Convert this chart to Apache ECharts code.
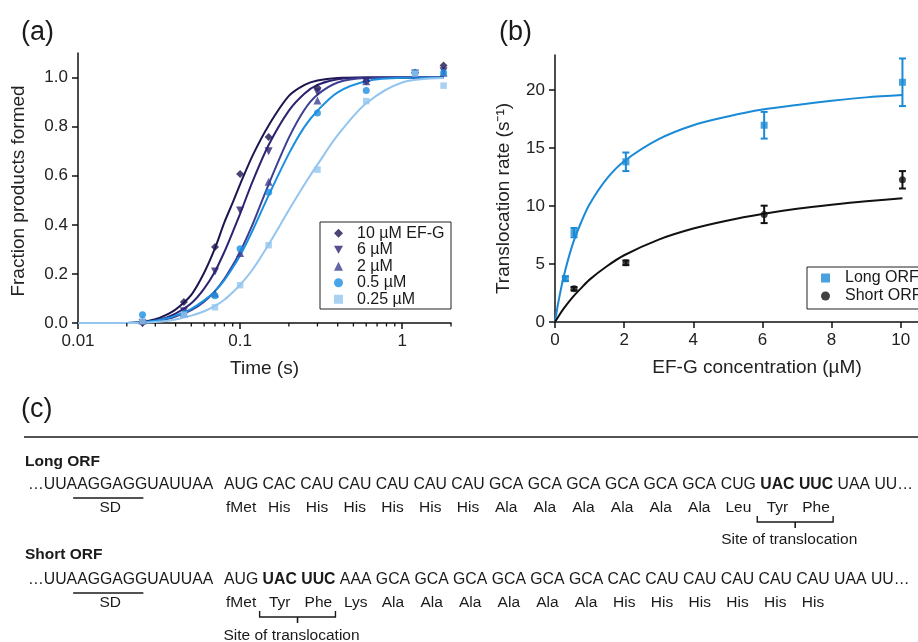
<!DOCTYPE html>
<html>
<head>
<meta charset="utf-8">
<title>EF-G translocation</title>
<script src="https://cdn.jsdelivr.net/npm/echarts@6/dist/echarts.min.js"></script>
<style>
  html, body { margin: 0; padding: 0; background: #fff; }
  #chart { width: 918px; height: 642px; }
</style>
</head>
<body>
<div id="chart"></div>
<script>
// ---- panel (a): fraction of products vs time ----
var timePts = [0.025, 0.045, 0.07, 0.1, 0.15, 0.3, 0.6, 1.2, 1.8];
var frac10 = [0.0, 0.086, 0.31, 0.607, 0.758, 0.958, 0.985, 1.02, 1.049];
var frac6 = [0.0, 0.048, 0.21, 0.458, 0.70, 0.94, 0.985, 1.016, 1.026];
var frac2 = [0.01, 0.04, 0.12, 0.285, 0.575, 0.906, 0.985, 1.016, 1.02];
var frac05 = [0.034, 0.038, 0.111, 0.303, 0.533, 0.856, 0.947, 1.02, 1.02];
var frac025 = [0.007, 0.034, 0.064, 0.154, 0.317, 0.625, 0.904, 1.016, 0.967];

// fitted curves
var fitTime = [0.01, 0.02, 0.025, 0.03, 0.035, 0.04, 0.05, 0.06, 0.07, 0.08, 0.09, 0.1, 0.12, 0.15, 0.2, 0.25, 0.3, 0.4, 0.6, 1, 1.8];
var fit10 = [0, 0, 0.004, 0.015, 0.033, 0.055, 0.115, 0.205, 0.305, 0.41, 0.49, 0.565, 0.685, 0.805, 0.925, 0.97, 0.988, 0.998, 1, 1, 1];
var fit6 = [0, 0, 0.002, 0.01, 0.022, 0.038, 0.08, 0.14, 0.21, 0.29, 0.37, 0.445, 0.58, 0.725, 0.865, 0.935, 0.97, 0.993, 1, 1, 1];
var fit2 = [0, 0, 0.002, 0.007, 0.015, 0.026, 0.052, 0.087, 0.13, 0.18, 0.235, 0.29, 0.405, 0.565, 0.755, 0.87, 0.93, 0.98, 0.998, 1, 1];
var fit05 = [0, 0, 0.003, 0.009, 0.018, 0.03, 0.058, 0.092, 0.13, 0.175, 0.225, 0.275, 0.38, 0.52, 0.69, 0.8, 0.865, 0.94, 0.985, 0.999, 1];
var fit025 = [0, 0, 0.001, 0.004, 0.008, 0.014, 0.03, 0.048, 0.07, 0.095, 0.125, 0.155, 0.22, 0.32, 0.46, 0.565, 0.645, 0.765, 0.895, 0.98, 0.998];

var seriesNamesA = ['10 µM EF-G', '6 µM', '2 µM', '0.5 µM', '0.25 µM'];
var minorTimeTicks = [0.02, 0.03, 0.04, 0.05, 0.06, 0.07, 0.08, 0.09, 0.2, 0.3, 0.4, 0.5, 0.6, 0.7, 0.8, 0.9, 2];
var fracTicks = [0, 0.2, 0.4, 0.6, 0.8, 1.0];

// ---- panel (b): translocation rate vs EF-G ----
var concLong = [0.3, 0.55, 2.05, 6.05, 10.05];
var rateLong = [3.73, 7.7, 13.8, 16.95, 20.65];
var errLong = [0.2, 0.4, 0.8, 1.15, 2.05];
var concShort = [0.55, 2.05, 6.05, 10.05];
var rateShort = [2.87, 5.1, 9.27, 12.25];
var errShort = [0.15, 0.2, 0.75, 0.75];

var fitConc = [0, 0.1, 0.25, 0.5, 0.75, 1, 1.5, 2, 3, 4, 5, 6, 7, 8, 9, 10.05];
var fitLong = [0, 1.75, 3.9, 6.6, 8.55, 10.15, 12.35, 13.85, 15.75, 16.95, 17.7, 18.3, 18.7, 19.05, 19.35, 19.55];
var fitShort = [0, 0.48, 1.15, 2.1, 2.9, 3.65, 4.8, 5.75, 7.1, 8.05, 8.75, 9.3, 9.75, 10.1, 10.4, 10.65];

var concTicks = [0, 2, 4, 6, 8, 10];
var rateTicks = [0, 5, 10, 15, 20];

// ---- panel (c): mRNA sequences ----
var leaderPre = '…UUA', leaderSD = 'AGGAGG', leaderPost = 'UAUUAA';
var longCodons = ['AUG', 'CAC', 'CAU', 'CAU', 'CAU', 'CAU', 'CAU', 'GCA', 'GCA', 'GCA', 'GCA', 'GCA', 'GCA', 'CUG', 'UAC', 'UUC', 'UAA', 'UU…'];
var longAmino = ['fMet', 'His', 'His', 'His', 'His', 'His', 'His', 'Ala', 'Ala', 'Ala', 'Ala', 'Ala', 'Ala', 'Leu', 'Tyr', 'Phe', '', ''];
var longBold = [14, 15];
var shortCodons = ['AUG', 'UAC', 'UUC', 'AAA', 'GCA', 'GCA', 'GCA', 'GCA', 'GCA', 'GCA', 'CAC', 'CAU', 'CAU', 'CAU', 'CAU', 'CAU', 'UAA', 'UU…'];
var shortAmino = ['fMet', 'Tyr', 'Phe', 'Lys', 'Ala', 'Ala', 'Ala', 'Ala', 'Ala', 'Ala', 'His', 'His', 'His', 'His', 'His', 'His', '', ''];
var shortBold = [1, 2];

var FF = 'Liberation Sans';
var INK = '#1a1a1a';
var coloursA = ['#1c1650', '#2b2372', '#3d3f92', '#1b8fe0', '#93c5ef'];
var symbolsA = ['diamond', 'path://M0,0L10,0L5,9Z', 'triangle', 'circle', 'rect'];
var sizesA = [8, 8, 8, 7, 6.5];
var BLUE = '#1b8ad6';

function zip(xs, ys) {
	return xs.map(function (x, i) { return [x, ys[i]]; });
}
function zip3(xs, ys, es) {
	return xs.map(function (x, i) { return [x, ys[i], es[i]]; });
}

var ctx = document.createElement('canvas').getContext('2d');
function textW(s, size, weight) {
	ctx.font = (weight || 'normal') + ' ' + size + 'px ' + FF;
	return ctx.measureText(s).width;
}
function txt(x, y, s, size, weight, align) {
	return {
		type: 'text', x: x, y: y, silent: true,
		style: {
			text: s, fontSize: size, fontFamily: FF, fontWeight: weight || 'normal',
			fill: INK, align: align || 'left', verticalAlign: 'middle'
		}
	};
}
function seg(x1, y1, x2, y2, w) {
	return { type: 'line', silent: true, shape: { x1: x1, y1: y1, x2: x2, y2: y2 }, style: { stroke: INK, lineWidth: w || 1.3 } };
}

// one ORF block: title, sequence line, amino acids, SD mark and translocation bracket
function orfBlock(title, codons, amino, bold, titleY, seqY, aaY, siteY) {
	var els = [];
	var seqSize = 15.8, aaSize = 15.5;
	els.push(txt(25, titleY, title, 15.5, 'bold'));
	var x0 = 28;
	els.push(txt(x0, seqY, leaderPre + leaderSD + leaderPost, seqSize));
	var u1 = x0 + textW(leaderPre, seqSize) - 4;
	var u2 = u1 + textW(leaderSD, seqSize);
	els.push(seg(u1, seqY + 13, u2, seqY + 13, 1.5));
	els.push(txt((u1 + u2) / 2 + 2, aaY, 'SD', aaSize, 'normal', 'center'));

	var x = 224, space = textW(' ', seqSize);
	var starts = [], ends = [];
	codons.forEach(function (c, i) {
		var w8 = bold.indexOf(i) >= 0 ? 'bold' : 'normal';
		var w = textW(c, seqSize, w8);
		els.push(txt(x, seqY, c, seqSize, w8));
		starts.push(x); ends.push(x + w);
		if (amino[i]) els.push(txt(x + w / 2, aaY, amino[i], aaSize, 'normal', 'center'));
		x += w + space;
	});
	var b1 = starts[bold[0]] - 3, b2 = ends[bold[bold.length - 1]];
	var bm = (b1 + b2) / 2;
	els.push({
		type: 'polyline', silent: true,
		shape: { points: [[b1, aaY + 8], [b1, aaY + 14], [b2, aaY + 14], [b2, aaY + 8]] },
		style: { stroke: INK, lineWidth: 1.4, fill: null }
	});
	els.push(seg(bm, aaY + 14, bm, aaY + 20, 1.6));
	els.push(txt(bm - 6, siteY, 'Site of translocation', 15.5, 'normal', 'center'));
	return els;
}

var graphics = [
	txt(21, 33, '(a)', 27),
	txt(499, 33, '(b)', 27),
	txt(21, 410, '(c)', 27),
	seg(24, 437, 918, 437, 1.5),
	{ type: 'rect', silent: true, shape: { x: 320, y: 222, width: 131, height: 87 }, style: { stroke: '#222', lineWidth: 1, fill: null } },
	{ type: 'rect', silent: true, shape: { x: 807, y: 267, width: 140, height: 42 }, style: { stroke: '#222', lineWidth: 1, fill: null } }
].concat(
	orfBlock('Long ORF', longCodons, longAmino, longBold, 462, 485, 508, 540),
	orfBlock('Short ORF', shortCodons, shortAmino, shortBold, 555, 580, 603, 636)
);

var axisLineStyle = { color: '#111', width: 1.5 };
var labelStyle = { fontSize: 17, fontFamily: FF, color: '#222' };
var nameStyle = { fontSize: 19, fontFamily: FF, color: '#222' };

var series = [];
// panel (a) fit curves
seriesNamesA.forEach(function (n, i) {
	var fits = [fit10, fit6, fit2, fit05, fit025];
	series.push({
		name: 'fit ' + n, type: 'line', xAxisIndex: 0, yAxisIndex: 0,
		data: zip(fitTime, fits[i]), smooth: 0.3,
		showSymbol: false, silent: true, z: 2,
		lineStyle: { color: coloursA[i], width: 2 }
	});
});
// panel (a) points
seriesNamesA.forEach(function (n, i) {
	var pts = [frac10, frac6, frac2, frac05, frac025];
	series.push({
		name: n, type: 'scatter', xAxisIndex: 0, yAxisIndex: 0,
		data: zip(timePts, pts[i]), symbol: symbolsA[i], symbolSize: sizesA[i], z: 3,
		itemStyle: { color: coloursA[i] }
	});
});
// log minor ticks on the time axis
series.push({
	name: 'minor ticks', type: 'custom', xAxisIndex: 0, yAxisIndex: 0, silent: true, z: 4,
	data: minorTimeTicks.map(function (v) { return [v, 0]; }),
	renderItem: function (params, api) {
		var p = api.coord([api.value(0), 0]);
		return { type: 'line', shape: { x1: p[0], y1: p[1], x2: p[0], y2: p[1] + 3.5 }, style: { stroke: '#111', lineWidth: 1.3 } };
	}
});

// panel (b)
function errorBars(name, data, colour) {
	return {
		name: name, type: 'custom', xAxisIndex: 1, yAxisIndex: 1, silent: true, z: 3,
		data: data,
		renderItem: function (params, api) {
			var x = api.value(0), y = api.value(1), e = api.value(2);
			var lo = api.coord([x, y - e]), hi = api.coord([x, y + e]);
			var st = { stroke: colour, lineWidth: 2 };
			return {
				type: 'group', children: [
					{ type: 'line', shape: { x1: lo[0], y1: lo[1], x2: hi[0], y2: hi[1] }, style: st },
					{ type: 'line', shape: { x1: lo[0] - 3.5, y1: lo[1], x2: lo[0] + 3.5, y2: lo[1] }, style: st },
					{ type: 'line', shape: { x1: hi[0] - 3.5, y1: hi[1], x2: hi[0] + 3.5, y2: hi[1] }, style: st }
				]
			};
		}
	};
}
series.push(
	{ name: 'fit long', type: 'line', xAxisIndex: 1, yAxisIndex: 1, data: zip(fitConc, fitLong), smooth: 0.3, showSymbol: false, silent: true, z: 2, lineStyle: { color: BLUE, width: 2 } },
	{ name: 'fit short', type: 'line', xAxisIndex: 1, yAxisIndex: 1, data: zip(fitConc, fitShort), smooth: 0.3, showSymbol: false, silent: true, z: 2, lineStyle: { color: '#111', width: 2 } },
	errorBars('err long', zip3(concLong, rateLong, errLong), BLUE),
	errorBars('err short', zip3(concShort, rateShort, errShort), '#111'),
	{ name: 'Long ORF', type: 'scatter', xAxisIndex: 1, yAxisIndex: 1, data: zip(concLong, rateLong), symbol: 'rect', symbolSize: 7, z: 4, itemStyle: { color: BLUE } },
	{ name: 'Short ORF', type: 'scatter', xAxisIndex: 1, yAxisIndex: 1, data: zip(concShort, rateShort), symbol: 'circle', symbolSize: 7, z: 4, itemStyle: { color: '#111' } }
);

var option = {
	animation: false,
	backgroundColor: '#fff',
	grid: [
		{ left: 78, top: 53, width: 373, height: 270 },
		{ left: 555, top: 55, width: 369, height: 267 }
	],
	xAxis: [{
		gridIndex: 0, type: 'log', logBase: 10, min: 0.01, max: 2,
		axisLine: { lineStyle: axisLineStyle },
		axisTick: { length: 6, lineStyle: { color: '#111', width: 1.5 } },
		axisLabel: Object.assign({
			margin: 10, showMaxLabel: false,
			formatter: function (v) { return String(+(+v).toPrecision(3)); }
		}, labelStyle),
		splitLine: { show: false },
		name: 'Time (s)', nameLocation: 'middle', nameGap: 36, nameTextStyle: nameStyle
	}, {
		gridIndex: 1, type: 'value', min: 0, max: 10.5,
		axisLine: { lineStyle: axisLineStyle },
		axisTick: { length: 6, customValues: concTicks, lineStyle: { color: '#111', width: 1.5 } },
		axisLabel: Object.assign({ margin: 10, customValues: concTicks }, labelStyle),
		splitLine: { show: false },
		name: 'EF-G concentration (µM)', nameLocation: 'middle', nameGap: 36,
		nameTextStyle: Object.assign({ padding: [0, 0, 0, 41] }, nameStyle)
	}],
	yAxis: [{
		gridIndex: 0, type: 'value', min: 0, max: 1.1,
		axisLine: { show: true, lineStyle: axisLineStyle },
		axisTick: { show: true, length: 6, customValues: fracTicks, lineStyle: { color: '#111', width: 1.5 } },
		axisLabel: Object.assign({ margin: 10, customValues: fracTicks, formatter: function (v) { return (+v).toFixed(1); } }, labelStyle),
		splitLine: { show: false },
		name: 'Fraction products formed', nameLocation: 'middle', nameGap: 50,
		nameTextStyle: Object.assign({ padding: [0, 6, 0, 0] }, nameStyle)
	}, {
		gridIndex: 1, type: 'value', min: 0, max: 23,
		axisLine: { show: true, lineStyle: axisLineStyle },
		axisTick: { show: true, length: 6, customValues: rateTicks, lineStyle: { color: '#111', width: 1.5 } },
		axisLabel: Object.assign({ margin: 10, customValues: rateTicks }, labelStyle),
		splitLine: { show: false },
		name: 'Translocation rate (s⁻¹)', nameLocation: 'middle', nameGap: 42,
		nameTextStyle: Object.assign({ padding: [0, 20, 0, 0] }, nameStyle)
	}],
	legend: [{
		left: 334, top: 225, orient: 'vertical', padding: 0, itemGap: 0,
		itemWidth: 9, itemHeight: 9, selectedMode: false,
		data: seriesNamesA,
		textStyle: { fontSize: 16, fontFamily: FF, color: INK, lineHeight: 16.5, padding: [0, 0, 0, 9] }
	}, {
		left: 821, top: 269, orient: 'vertical', padding: 0, itemGap: 0,
		itemWidth: 9, itemHeight: 9, selectedMode: false,
		data: ['Long ORF', 'Short ORF'],
		textStyle: { fontSize: 16, fontFamily: FF, color: INK, lineHeight: 18, padding: [0, 0, 0, 10] }
	}],
	graphic: graphics,
	series: series
};

var chart = echarts.init(document.getElementById('chart'));
chart.setOption(option);
</script>
</body>
</html>
